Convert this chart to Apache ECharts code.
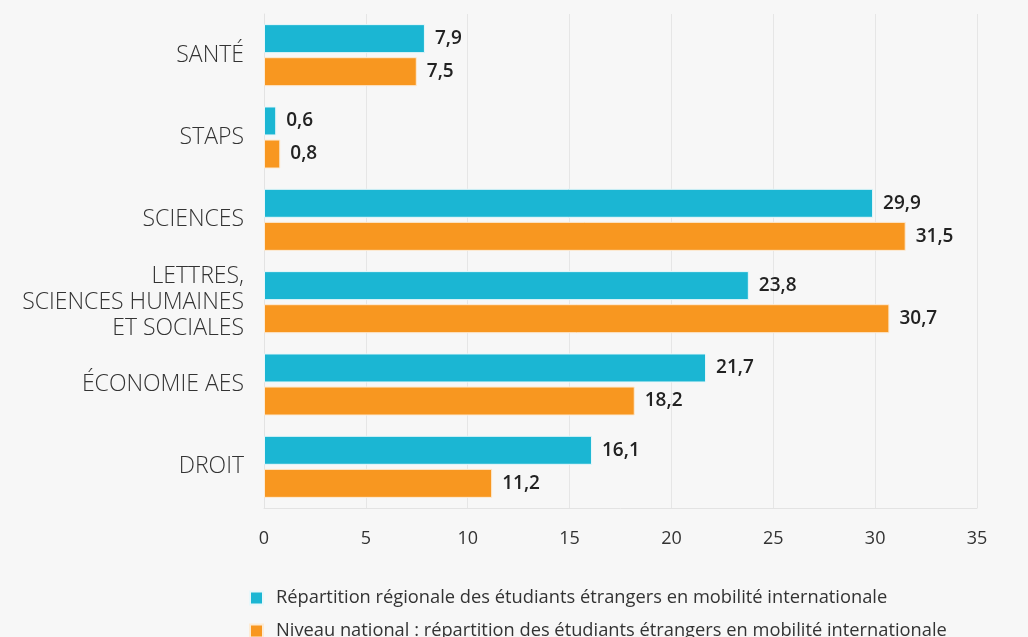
<!DOCTYPE html>
<html>
<head>
<meta charset="utf-8">
<script src="https://cdn.jsdelivr.net/npm/echarts@6/dist/echarts.min.js"></script>
<style>
html,body{margin:0;padding:0;background:#f7f7f7;}
#c{width:1028px;height:637px;}
</style>
</head>
<body>
<div id="c"></div>
<script>
const categories = ["SANTÉ", "STAPS", "SCIENCES", "LETTRES,\nSCIENCES HUMAINES\nET SOCIALES", "ÉCONOMIE AES", "DROIT"];
const regionalValues = [7.9, 0.6, 29.9, 23.8, 21.7, 16.1];
const nationalValues = [7.5, 0.8, 31.5, 30.7, 18.2, 11.2];
const seriesNames = [
  "Répartition régionale des étudiants étrangers en mobilité internationale",
  "Niveau national : répartition des étudiants étrangers en mobilité internationale"
];
const fmt = v => String(v.toFixed(1)).replace('.', ',');

const chart = echarts.init(document.getElementById('c'));
const labelStyle = {
  show: true, position: 'right', distance: 10,
  fontFamily: '"Open Sans", sans-serif',
  fontSize: 19, fontWeight: 600, color: '#222',
  formatter: p => fmt(p.value)
};
const legendBase = {
  orient: 'horizontal', left: 249, padding: 0,
  itemWidth: 13, itemHeight: 13, icon: 'rect',
  textStyle: { fontFamily: '"Open Sans", sans-serif', fontSize: 18.3, color: '#333', padding: [0, 0, 0, 8] }
};
chart.setOption({
  backgroundColor: '#f7f7f7',
  animation: false,
  grid: { left: 264, right: 51, top: 14, bottom: 129, containLabel: false },
  legend: [
    Object.assign({}, legendBase, { top: 589, data: [seriesNames[0]] }),
    Object.assign({}, legendBase, { top: 622, data: [seriesNames[1]] })
  ],
  xAxis: {
    type: 'value', min: 0, max: 35, interval: 5,
    axisLine: { show: true, lineStyle: { color: '#e3e3e3' } },
    axisTick: { show: false },
    splitLine: { show: true, lineStyle: { color: '#e6e6e6' } },
    axisLabel: { margin: 22, fontFamily: '"Open Sans", sans-serif', fontSize: 18, color: '#333' }
  },
  yAxis: {
    type: 'category', data: categories, inverse: true,
    axisLine: { show: true, lineStyle: { color: '#e3e3e3' } },
    axisTick: { show: false },
    axisLabel: { margin: 20, fontFamily: '"Open Sans", sans-serif', fontSize: 23, fontWeight: 300, color: '#333', lineHeight: 26, align: 'right' }
  },
  series: [
    { name: seriesNames[0], type: 'bar', data: regionalValues, barWidth: 29, barGap: '14%',
      itemStyle: { color: '#1bb6d3', borderColor: '#e8f7fa', borderWidth: 1 }, label: labelStyle },
    { name: seriesNames[1], type: 'bar', data: nationalValues, barWidth: 29,
      itemStyle: { color: '#f89720', borderColor: '#fdebd4', borderWidth: 1 }, label: labelStyle }
  ]
});
</script>
</body>
</html>
